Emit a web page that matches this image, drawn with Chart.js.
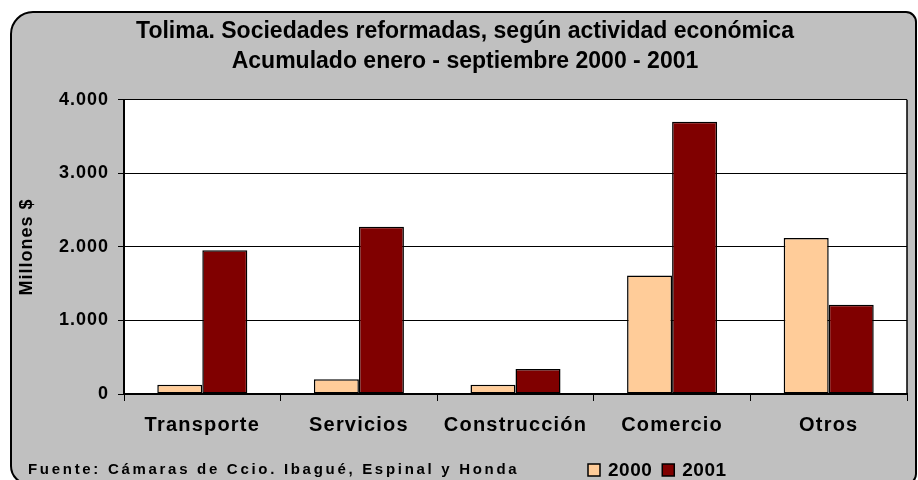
<!DOCTYPE html>
<html><head><meta charset="utf-8">
<script src="https://cdn.jsdelivr.net/npm/chart.js@4"></script>
<style>html,body{margin:0;padding:0;background:#fff}#wrap{width:918px;height:480px}</style>
</head><body><div id="wrap"><canvas id="c" width="918" height="480"></canvas></div>
<script>
const categories = ['Transporte', 'Servicios', 'Construcción', 'Comercio', 'Otros'];
const seriesLabels = ['2000', '2001'];
const values2000 = [125, 200, 125, 1610, 2120];
const values2001 = [1955, 2275, 340, 3700, 1215];
const yTicks = [0, 1000, 2000, 3000, 4000];
const titleLines = ['Tolima. Sociedades reformadas, según actividad económica', 'Acumulado enero - septiembre 2000 - 2001'];
const yAxisTitle = 'Millones $';
const sourceNote = 'Fuente: Cámaras de Ccio. Ibagué, Espinal y Honda';
const colors = ['#FFCC99', '#800000'];

const FONT = 'Liberation Sans, Arial, sans-serif';
const fmt = v => String(v).replace(/\B(?=(\d{3})+(?!\d))/g, '.');

const frame = {
  id: 'frame',
  beforeDraw(chart) {
    const ctx = chart.ctx, a = chart.chartArea;
    ctx.save();
    ctx.fillStyle = '#fff';
    ctx.fillRect(0, 0, chart.width, chart.height);
    ctx.beginPath();
    ctx.roundRect(11, 12, 905, 472, [22, 10, 10, 18]);
    ctx.fillStyle = '#C0C0C0';
    ctx.fill();
    ctx.lineWidth = 2;
    ctx.strokeStyle = '#000';
    ctx.stroke();
    ctx.fillStyle = '#fff';
    ctx.fillRect(a.left, a.top, a.right - a.left, a.bottom - a.top);
    ctx.restore();
  },
  afterLayout(chart) {
    const spacing = {x: {labels: '1.2px'}, y: {labels: '1px', title: '1px'}};
    for (const id of ['x', 'y']) {
      const s = chart.scales[id];
      if (s._wrappedLS) continue;
      const dl = s.drawLabels.bind(s), dt = s.drawTitle.bind(s);
      s.drawLabels = function (area) { const c = this.ctx; c.save(); c.letterSpacing = spacing[id].labels || '0px'; dl(area); c.restore(); };
      s.drawTitle = function (area) { const c = this.ctx; c.save(); c.letterSpacing = spacing[id].title || '0px'; dt(area); c.restore(); };
      s._wrappedLS = true;
    }
  },
  afterDraw(chart) {
    const ctx = chart.ctx, a = chart.chartArea;
    ctx.save();
    ctx.strokeStyle = '#000';
    ctx.lineWidth = 1.5;
    ctx.beginPath();
    ctx.moveTo(a.right, a.top);
    ctx.lineTo(a.right, a.bottom);
    ctx.stroke();
    // source note
    ctx.fillStyle = '#000';
    ctx.textBaseline = 'middle';
    ctx.font = 'bold 15px ' + FONT;
    ctx.letterSpacing = '2.7px';
    ctx.fillText(sourceNote, 28, 470);
    // legend
    ctx.letterSpacing = '0.5px';
    ctx.font = 'bold 19px ' + FONT;
    let x = 588;
    chart.data.datasets.forEach(ds => {
      ctx.fillStyle = ds.backgroundColor;
      ctx.fillRect(x, 464, 12, 12);
      ctx.lineWidth = 1.5;
      ctx.strokeStyle = '#000';
      ctx.strokeRect(x, 464, 12, 12);
      ctx.fillStyle = '#000';
      ctx.fillText(ds.label, x + 20, 471);
      x += 20 + ctx.measureText(ds.label).width + 10;
    });
    ctx.restore();
  }
};

new Chart(document.getElementById('c'), {
  type: 'bar',
  data: {
    labels: categories,
    datasets: [
      {label: seriesLabels[0], data: values2000, backgroundColor: colors[0]},
      {label: seriesLabels[1], data: values2001, backgroundColor: colors[1]}
    ].map(d => Object.assign(d, {borderColor: '#000', borderWidth: 1.5, borderSkipped: false, categoryPercentage: 0.575, barPercentage: 1}))
  },
  options: {
    responsive: false,
    animation: false,
    devicePixelRatio: 1,
    layout: {padding: {left: 23, right: 11, top: 0, bottom: 0}},
    plugins: {
      legend: {display: false},
      tooltip: {enabled: false},
      title: {
        display: true,
        text: titleLines,
        color: '#000',
        font: {family: FONT, size: 23, weight: 'bold', lineHeight: 1.3},
        padding: {top: 17, bottom: 23}
      }
    },
    scales: {
      x: {
        afterFit: s => { s.height = 86; },
        grid: {display: true, drawOnChartArea: false, drawTicks: true, tickLength: 7, color: '#000', offset: true},
        border: {display: true, color: '#000', width: 2},
        ticks: {color: '#000', padding: 12, font: {family: FONT, size: 20, weight: 'bold'}, maxRotation: 0, autoSkip: false}
      },
      y: {
        min: yTicks[0],
        max: yTicks[yTicks.length - 1],
        afterFit: s => { s.width = 101; },
        afterBuildTicks: s => { s.ticks = yTicks.map(v => ({value: v})); },
        grid: {color: '#000', lineWidth: 1, tickLength: 6, drawTicks: true},
        border: {display: true, color: '#000', width: 2},
        ticks: {color: '#000', padding: 9, font: {family: FONT, size: 18, weight: 'bold'}, callback: v => fmt(v)},
        title: {display: true, text: yAxisTitle, color: '#000', padding: {top: -7, bottom: 0}, font: {family: FONT, size: 18, weight: 'bold'}}
      }
    }
  },
  plugins: [frame]
});
</script>
</body></html>
